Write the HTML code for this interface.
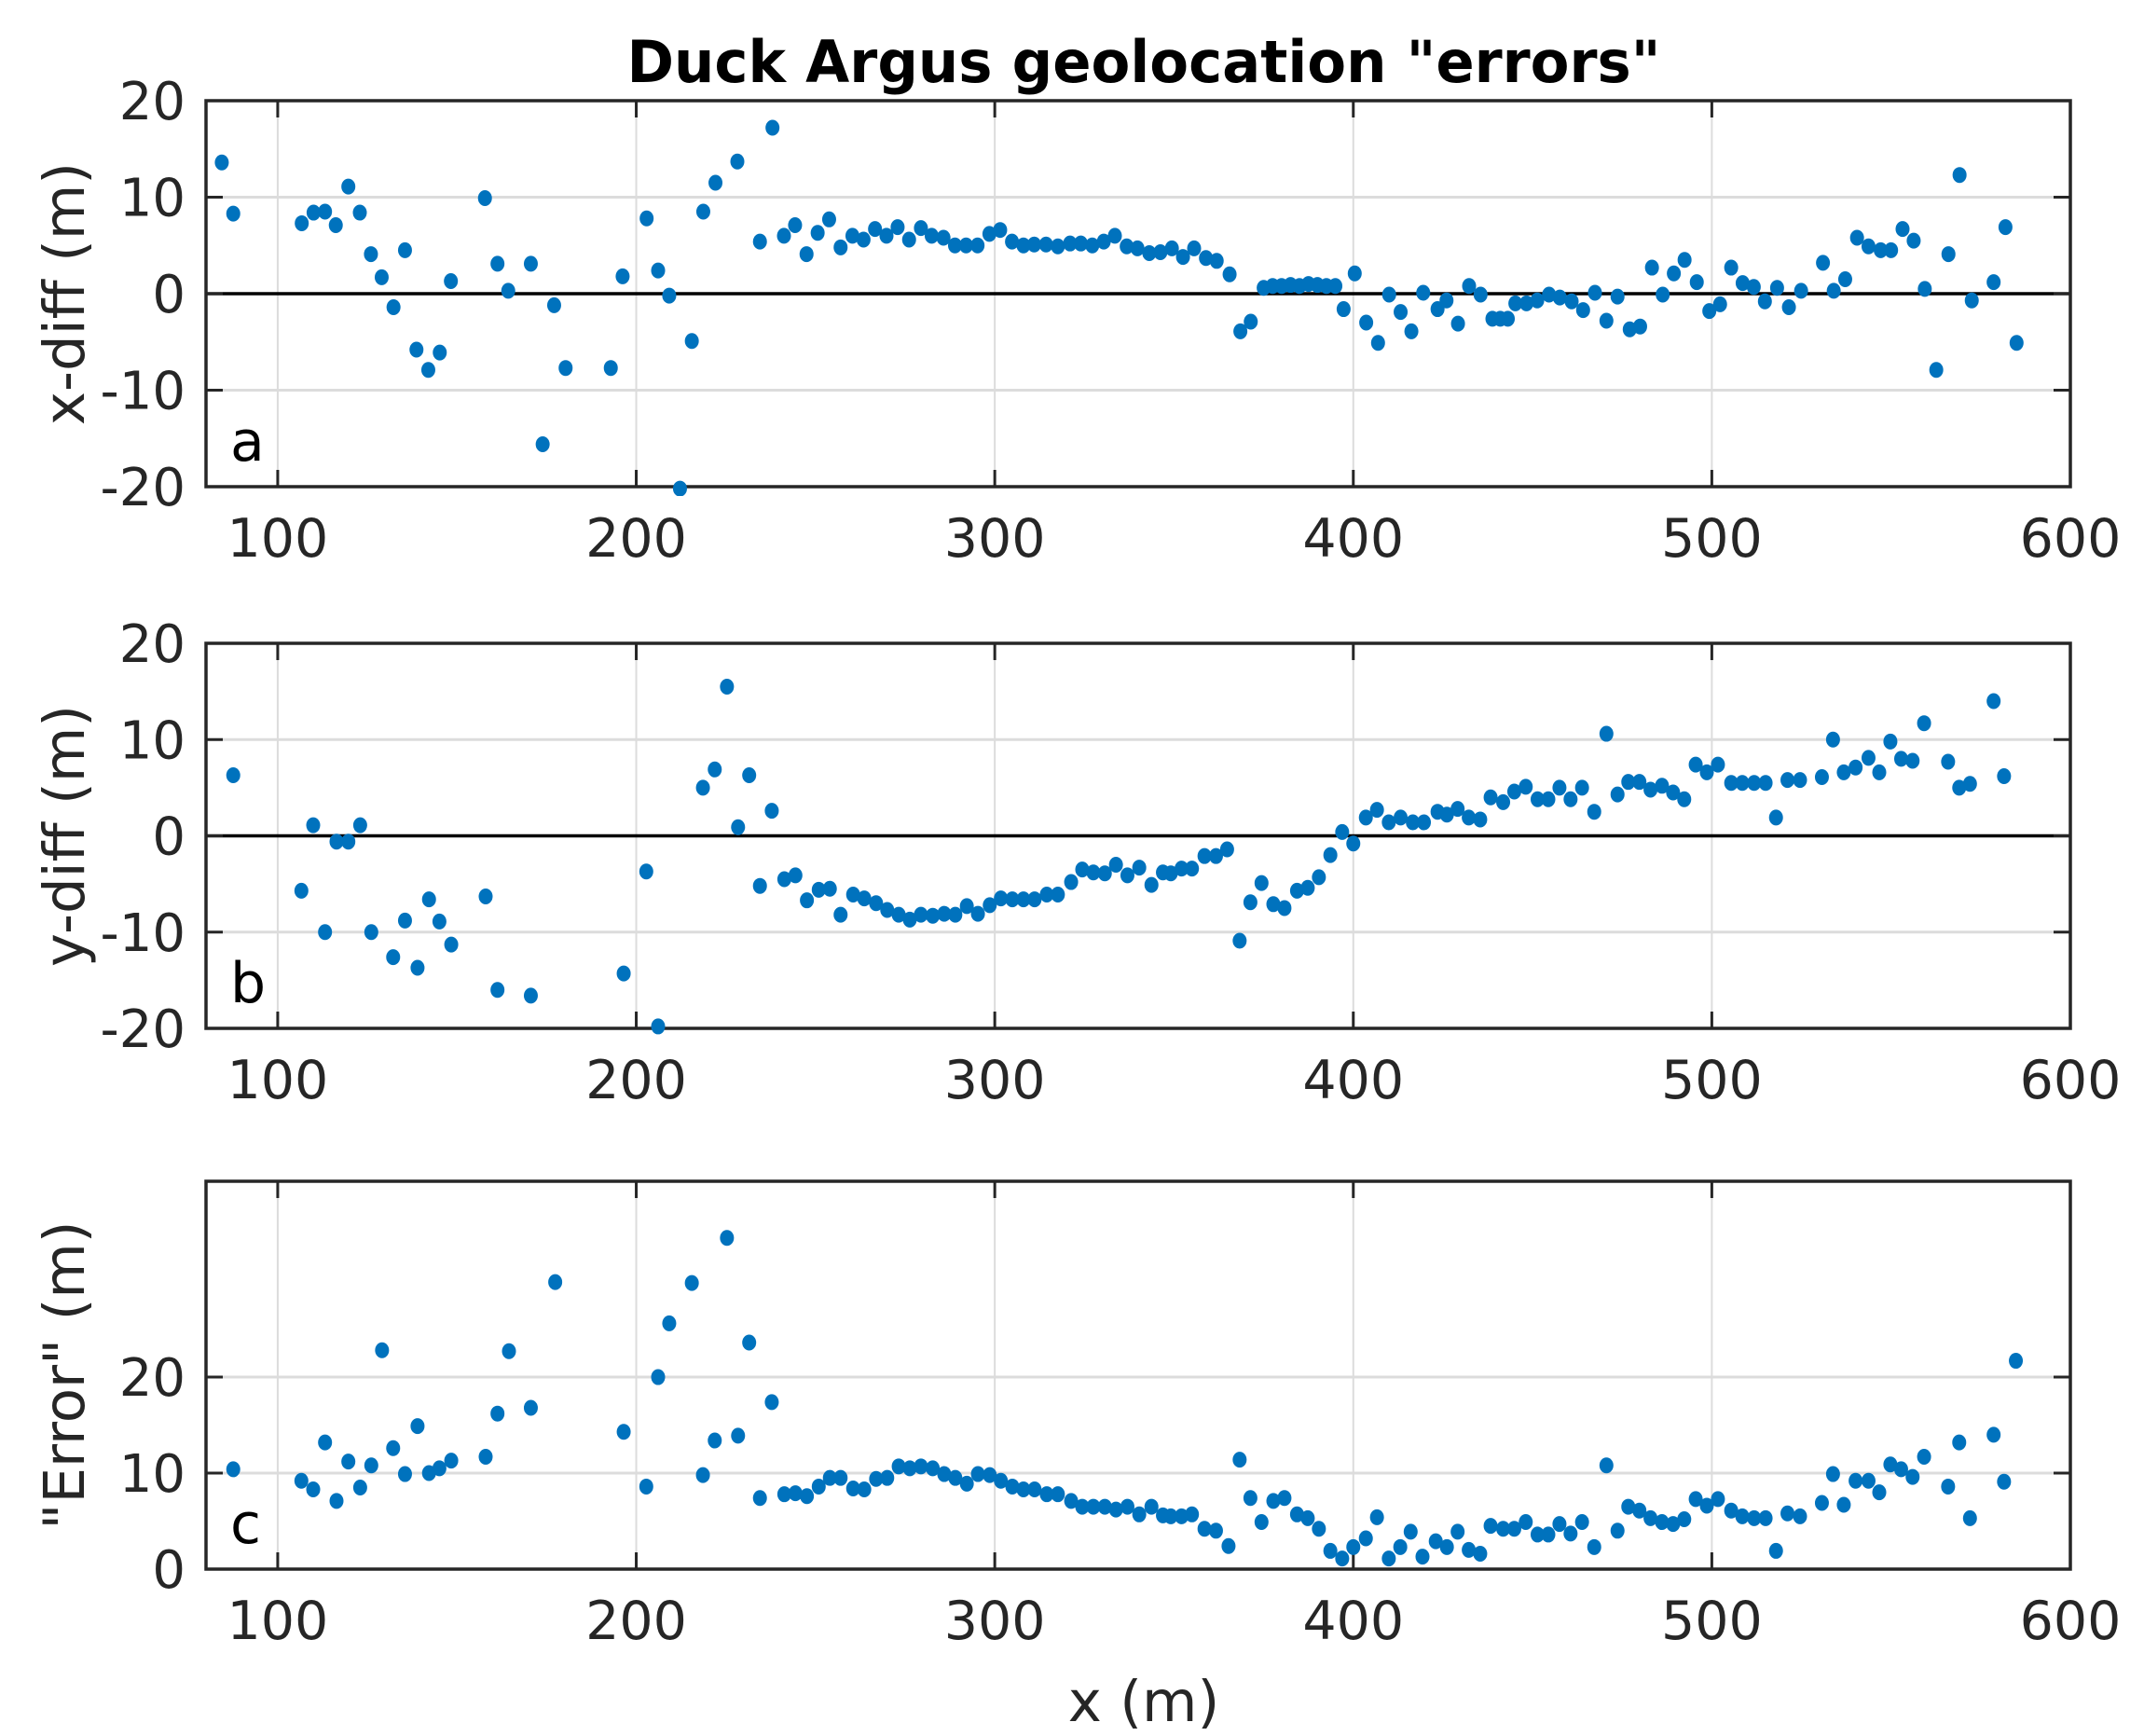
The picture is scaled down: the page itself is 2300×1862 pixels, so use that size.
<!DOCTYPE html>
<html><head><meta charset="utf-8"><style>
html,body{margin:0;padding:0;background:#fff}
svg{display:block}
text{font-family:"DejaVu Sans","Liberation Sans",sans-serif;fill:#262626}
</style></head><body>
<svg id="chart" width="2300" height="1862" viewBox="0 0 2300 1862" xmlns="http://www.w3.org/2000/svg">
<rect width="2300" height="1862" fill="#fff"/>
<text x="1227" y="88" text-anchor="middle" font-size="62" font-weight="bold" style="fill:#000" textLength="1109" lengthAdjust="spacingAndGlyphs">Duck Argus geolocation "errors"</text>
<text x="1227" y="1846" text-anchor="middle" font-size="61">x (m)</text>
<g id="plots"></g>
</svg>
<script>
const xTicks=[100,200,300,400,500,600];
const aX=[84.4,87.6,106.7,110,113.2,116.2,119.7,122.9,126,129,132.3,135.5,138.7,142,145.2,148.3,157.8,161.3,164.3,170.6,173.9,177.1,180.3,192.9,196.2,202.9,206.1,209.2,212.2,215.5,218.7,222.1,228.2,234.5,238,241.2,244.3,247.5,250.6,253.8,257,260.3,263.4,266.6,269.8,272.9,276.1,279.4,282.4,285.7,288.9,292,295.2,298.5,301.5,304.8,308,311,314.3,317.6,321,324,327.2,330.4,333.5,336.8,339.8,343.1,346.2,349.4,352.5,355.6,358.9,361.9,365.5,368.5,371.4,375,377.5,380,382.5,385,387.5,390,392.5,395,397.3,400.4,403.6,406.9,410,413.2,416.2,419.5,423.5,426,429.2,432.3,435.5,438.8,441,443.1,445.2,448.3,451.3,454.6,457.6,460.9,464.1,467.4,470.6,473.7,477.1,480,483.3,486.3,489.4,492.4,495.8,499.3,502.3,505.4,508.6,511.7,514.8,518.2,521.5,524.9,531,534,537.2,540.5,543.7,547.1,550,553.2,556.3,559.4,562.6,566,569.1,572.5,578.6,581.9,585];
const aY=[13.6,8.3,7.3,8.4,8.5,7.1,11.1,8.4,4.1,1.7,-1.4,4.5,-5.8,-7.9,-6.1,1.3,9.9,3.1,0.3,3.1,-15.6,-1.2,-7.7,-7.7,1.8,7.8,2.4,-0.2,-20.2,-4.9,8.5,11.5,13.7,5.4,17.2,6,7.1,4.1,6.3,7.7,4.8,6,5.6,6.7,6,6.9,5.6,6.8,6,5.8,5,5,5,6.2,6.6,5.4,5,5.1,5.1,4.9,5.2,5.2,5,5.4,6,4.9,4.7,4.2,4.3,4.7,3.8,4.7,3.7,3.4,2.0,-3.9,-2.9,0.6,0.8,0.8,0.9,0.8,1.0,0.9,0.8,0.8,-1.6,2.1,-3.0,-5.1,-0.1,-1.9,-3.9,0.1,-1.6,-0.7,-3.1,0.8,-0.1,-2.6,-2.6,-2.6,-1.0,-1.0,-0.7,-0.1,-0.4,-0.8,-1.7,0.1,-2.8,-0.3,-3.7,-3.4,2.7,-0.1,2.1,3.5,1.2,-1.8,-1.1,2.7,1.1,0.7,-0.8,0.6,-1.4,0.3,3.2,0.3,1.5,5.8,4.9,4.5,4.5,6.7,5.5,0.5,-7.9,4.1,12.3,-0.7,1.2,6.9,-5.1];
const bX=[87.6,106.6,109.9,113.2,116.4,119.7,123,126.1,132.2,135.5,139,142.2,145.1,148.4,158,161.3,170.6,196.5,202.8,206.1,218.6,221.9,225.3,228.4,231.5,234.5,237.8,241.3,244.4,247.6,250.9,254,257,260.5,263.6,266.9,270,273.2,276.3,279.4,282.7,285.9,289,292.2,295.3,298.6,301.7,304.9,308,311.1,314.5,317.6,321.3,324.4,327.5,330.7,333.8,337,340.3,343.7,346.9,349.1,352.1,355,358.5,361.7,364.8,368.3,371.3,374.4,377.7,380.8,384.3,387.3,390.4,393.6,396.9,400,403.5,406.6,409.9,413.2,416.6,419.7,423.5,426.1,429.1,432.2,435.4,438.3,441.8,444.9,448.1,451.4,454.4,457.5,460.6,463.8,467.2,470.6,473.7,476.7,479.8,482.9,486.1,489.2,492.3,495.5,498.6,501.7,505.4,508.5,511.8,515,517.9,521.1,524.6,530.7,533.8,536.8,540.1,543.7,546.7,549.8,552.8,556,559.2,565.9,569,572,578.6,581.5];
const bY=[6.3,-5.7,1.1,-10.0,-0.6,-0.6,1.1,-10.0,-12.6,-8.8,-13.7,-6.6,-8.9,-11.3,-6.3,-16.0,-16.6,-14.3,-3.7,-19.8,5.0,6.9,15.5,0.9,6.3,-5.2,2.6,-4.5,-4.1,-6.7,-5.6,-5.5,-8.2,-6.1,-6.5,-7.0,-7.7,-8.2,-8.7,-8.2,-8.3,-8.1,-8.2,-7.3,-8.1,-7.2,-6.5,-6.6,-6.6,-6.6,-6.1,-6.1,-4.8,-3.5,-3.8,-3.9,-3.0,-4.1,-3.3,-5.1,-3.8,-3.9,-3.4,-3.4,-2.1,-2.1,-1.4,-10.9,-6.9,-4.9,-7.1,-7.5,-5.7,-5.4,-4.3,-2.0,0.4,-0.8,1.9,2.7,1.4,1.9,1.4,1.4,2.5,2.2,2.8,1.9,1.7,4.0,3.5,4.6,5.1,3.8,3.8,5.0,3.8,5.0,2.5,10.6,4.3,5.6,5.6,4.8,5.2,4.5,3.8,7.4,6.6,7.4,5.5,5.5,5.5,5.5,1.9,5.8,5.8,6.1,10.0,6.6,7.1,8.1,6.6,9.8,8.0,7.8,11.7,7.7,5.0,5.4,14.0,6.2];
const cX=[87.6,106.6,109.9,113.2,116.4,119.7,123,126.1,129.1,132.2,135.5,139,142.2,145.1,148.4,158,161.3,164.5,170.6,177.4,196.5,202.8,206.1,209.2,215.5,218.6,221.9,225.3,228.4,231.5,234.5,237.8,241.3,244.4,247.6,250.9,254,257,260.5,263.6,266.9,270,273.2,276.3,279.4,282.7,285.9,289,292.2,295.3,298.6,301.7,304.9,308,311.1,314.5,317.6,321.3,324.4,327.5,330.7,333.8,337,340.3,343.7,346.9,349.1,352.1,355,358.5,361.7,365.2,368.3,371.3,374.4,377.7,380.8,384.3,387.3,390.4,393.6,396.9,400,403.5,406.6,409.9,413.1,416,419.3,423,426.1,429.1,432.2,435.4,438.3,441.8,444.9,448.1,451.4,454.4,457.5,460.6,463.8,467.2,470.6,473.7,476.7,479.8,482.9,486.1,489.2,492.3,495.5,498.6,501.7,505.4,508.5,511.8,515,517.9,521.1,524.6,530.7,533.8,536.8,540.1,543.7,546.7,549.8,552.8,556,559.2,565.9,569,572,578.6,581.5,584.8];
const cY=[10.4,9.2,8.3,13.2,7.1,11.2,8.5,10.8,22.8,12.6,9.9,14.9,10.0,10.5,11.3,11.7,16.2,22.7,16.8,29.9,14.3,8.6,20,25.6,29.8,9.8,13.4,34.5,13.9,23.6,7.4,17.4,7.8,7.9,7.6,8.6,9.5,9.5,8.4,8.3,9.4,9.5,10.7,10.5,10.7,10.5,9.9,9.5,8.9,9.9,9.8,9.2,8.6,8.3,8.3,7.8,7.8,7.1,6.5,6.5,6.5,6.2,6.5,5.7,6.5,5.6,5.5,5.5,5.7,4.2,4.0,2.4,11.4,7.4,4.9,7.1,7.4,5.7,5.3,4.2,1.9,1.1,2.3,3.2,5.4,1.1,2.3,3.9,1.3,2.9,2.3,3.9,2.0,1.6,4.5,4.2,4.2,4.9,3.6,3.6,4.7,3.7,4.9,2.3,10.8,4.0,6.5,6.1,5.3,4.9,4.7,5.2,7.3,6.6,7.3,6.1,5.5,5.3,5.3,1.9,5.8,5.5,6.9,9.9,6.7,9.2,9.2,8.0,10.9,10.4,9.6,11.7,8.6,13.2,5.3,14.0,9.1,21.7];
const aTicks=[-20,-10,0,10,20];
const bTicks=[-20,-10,0,10,20];
const cTicks=[0,10,20];

const NS='http://www.w3.org/2000/svg';
const L=221,R=2221,XMIN=80,XMAX=600;
function sx(v){return L+(v-XMIN)/(XMAX-XMIN)*(R-L);}
function mk(tag,attrs,parent){const e=document.createElementNS(NS,tag);for(const k in attrs)e.setAttribute(k,attrs[k]);parent.appendChild(e);return e;}
const root=document.getElementById('plots');

function panel(id,top,bot,ymin,ymax,ticks,xs,ys,ylabel,letter,zeroLine){
  const g=mk('g',{},root);
  
  
  const sy=v=>bot-(v-ymin)/(ymax-ymin)*(bot-top);
  xTicks.forEach(t=>{ if(t<XMAX){const l=mk('line',{x1:sx(t),x2:sx(t),y1:top,y2:bot,stroke:'#dcdcdc','stroke-width':2},g);
    
    }});
  ticks.forEach(t=>{ if(t>ymin&&t<ymax){const l=mk('line',{x1:L,x2:R,y1:sy(t),y2:sy(t),stroke:'#dcdcdc','stroke-width':3},g);
    
    }});
  if(zeroLine){const z=mk('line',{x1:L,x2:R,y1:sy(0),y2:sy(0),stroke:'#000','stroke-width':3.5},g);
    
    }
  xTicks.forEach(t=>{
    mk('line',{x1:sx(t),x2:sx(t),y1:bot,y2:bot-18,stroke:'#262626','stroke-width':3},g);
    mk('line',{x1:sx(t),x2:sx(t),y1:top,y2:top+18,stroke:'#262626','stroke-width':3},g);
    const tx=mk('text',{x:sx(t),y:bot+75,'text-anchor':'middle','font-size':57},g);
    tx.textContent=t;
    
    
  });
  ticks.forEach(t=>{
    mk('line',{x1:L,x2:L+18,y1:sy(t),y2:sy(t),stroke:'#262626','stroke-width':3},g);
    mk('line',{x1:R,x2:R-18,y1:sy(t),y2:sy(t),stroke:'#262626','stroke-width':3},g);
    const tx=mk('text',{x:199,y:sy(t)+20,'text-anchor':'end','font-size':56},g);
    tx.textContent=t;
    
    
  });
  const bx=mk('rect',{x:L,y:top,width:R-L,height:bot-top,fill:'none',stroke:'#262626','stroke-width':3.5},g);
  
  
  const clipId='clip'+id;
  const cp=mk('clipPath',{id:clipId},g);
  mk('rect',{x:L-10,y:top-10,width:R-L+20,height:bot-top+20},cp);
  const pg=mk('g',{'clip-path':'url(#'+clipId+')'},g);
  for(let i=0;i<xs.length;i++){
    const c=mk('ellipse',{cx:sx(xs[i]),cy:sy(ys[i]),rx:7.5,ry:8.5,fill:'#0072BD'},pg);
    
    
  }
  const cy=(top+bot)/2;
  const yl=mk('text',{x:0,y:0,'text-anchor':'middle','font-size':61,transform:'translate(90,'+cy+') rotate(-90)'},g);
  yl.textContent=ylabel;
  
  
  const lt=mk('text',{x:247,y:bot-28,'font-size':60,style:'fill:#000'},g);
  lt.textContent=letter;
  
  
}
panel('a',108,522,-20,20,aTicks,aX,aY,'x-diff (m)','a',true);
panel('b',690,1103,-20,20,bTicks,bX,bY,'y-diff (m)','b',true);
panel('c',1267,1683,0,40.4,cTicks,cX,cY,'"Error" (m)','c',false);
</script>
</body></html>
